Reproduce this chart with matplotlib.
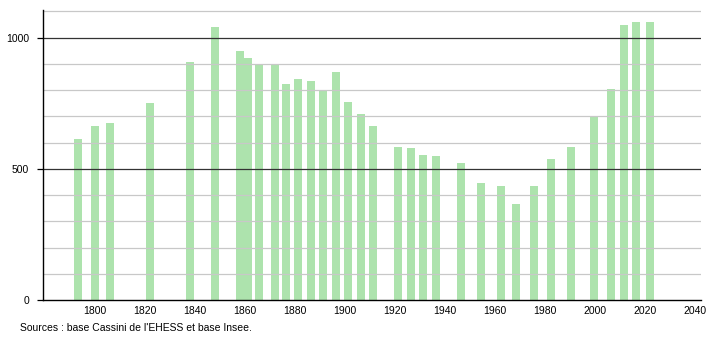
import matplotlib
matplotlib.use('Agg')
import matplotlib.pyplot as plt

# census years as placed on the chart, and population
years = [1793, 1800, 1806, 1822, 1838, 1848, 1858, 1861.2, 1865.6, 1872,
         1876.4, 1881.2, 1886.4, 1891.2, 1896.4, 1901.2, 1906.4, 1911.2,
         1921.2, 1926.4, 1931.2, 1936.4, 1946.4, 1954.4, 1962.4, 1968.2,
         1975.6, 1982.4, 1990.4, 1999.6, 2006.4, 2011.6, 2016.4, 2022]
population = [613, 663, 674, 750, 908, 1039, 947, 924, 901, 895,
              823, 841, 834, 797, 867, 754, 707, 663,
              582, 579, 551, 549, 521, 446, 434, 366,
              434, 537, 584, 701, 804, 1048, 1059, 1059]

x_ticks = list(range(1800, 2041, 20))
source = "Sources : base Cassini de l'EHESS et base Insee."

plt.rcParams['font.family'] = ['Liberation Sans', 'DejaVu Sans']

fig = plt.figure(figsize=(7.1, 3.4), dpi=100)
ax = fig.add_axes([43 / 710, 40 / 340, 658 / 710, 290 / 340])

ax.bar(years, population, width=3.2, color='#ade3ad', zorder=1)

# grid lines drawn over the bars
for v in range(100, 1101, 100):
    if v % 500 == 0:
        ax.axhline(v, color='#333333', linewidth=0.9, zorder=3)
    else:
        ax.axhline(v, color='#c8c8c8', linewidth=0.9, zorder=3)

ax.set_xlim(1779.2, 2042.4)
ax.set_ylim(0, 1105)
ax.set_xticks(x_ticks)
ax.set_yticks([0, 500, 1000])
ax.tick_params(axis='x', length=0, labelsize=7.5, pad=4)
ax.tick_params(axis='y', length=4, width=0.9, labelsize=7.5, pad=6)

for s in ['top', 'right']:
    ax.spines[s].set_visible(False)
for s in ['left', 'bottom']:
    ax.spines[s].set_linewidth(1.0)
    ax.spines[s].set_zorder(4)

fig.text(20 / 710, 1 - 328 / 340, source, fontsize=7.5, va='center', ha='left')

plt.savefig('out.png', dpi=100)
